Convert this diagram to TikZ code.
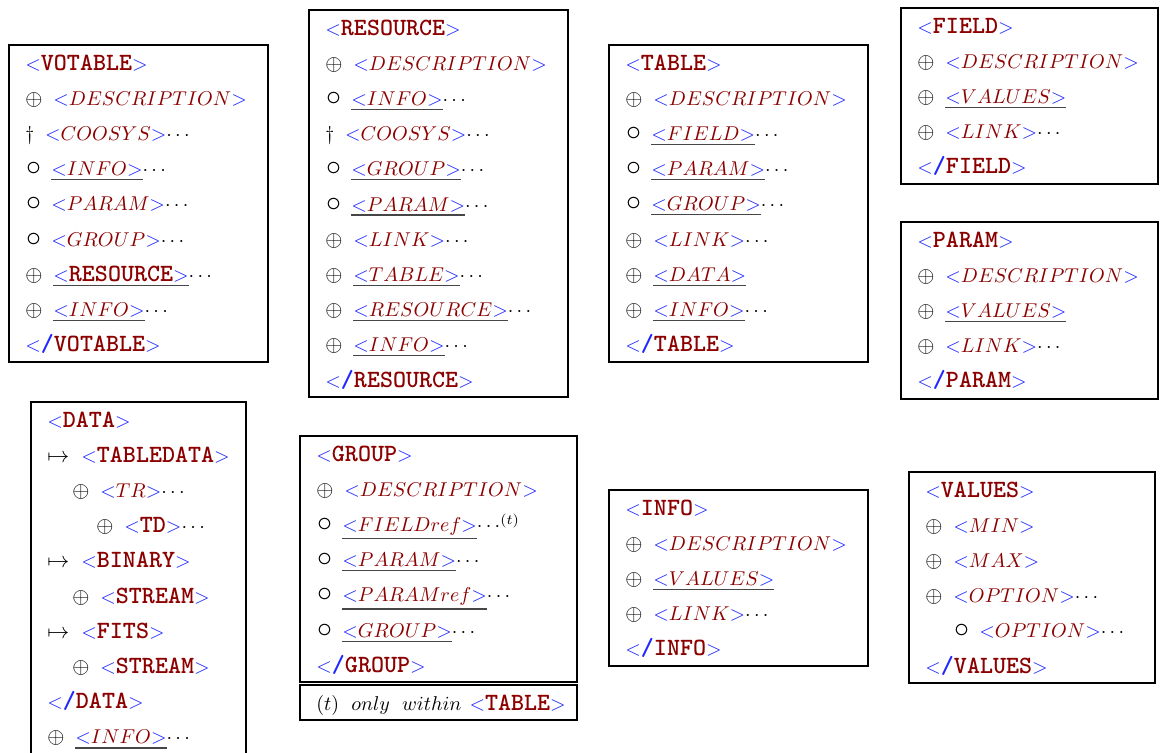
\documentclass[tikz,border=0pt]{standalone}
\usetikzlibrary{fit}
\definecolor{tagblue}{RGB}{30,40,255}
\definecolor{tagred}{RGB}{140,0,0}
\definecolor{ulgray}{RGB}{70,70,70}
\newcommand\tagfont{\fontsize{12.4}{14}\selectfont\ttfamily\bfseries}
\newcommand\lsign{\textcolor{tagblue}{$<$}}
\newcommand\gsign{\textcolor{tagblue}{$>$}}
\newcommand\tgT[1]{\lsign\textcolor{tagred}{\tagfont #1}\gsign}
\newcommand\tgE[1]{\lsign\textcolor{tagblue}{\tagfont /}\textcolor{tagred}{\tagfont #1}\gsign}
\newcommand\tgM[1]{\lsign\textcolor{tagred}{$#1$}\gsign}
\newcommand\tgU[1]{\setbox0\hbox{#1}\rlap{\textcolor{ulgray}{\rule[-\dimexpr\dp0+1.9pt\relax]{\wd0}{0.6pt}}}\box0}
\newcommand\dts{$\cdots$}
\newcommand\sOp{\makebox[14pt][l]{\scalebox{1.1}{$\oplus$}}}
\newcommand\sCi{\makebox[13pt][l]{\hspace{0.3pt}\scalebox{1.5}{$\circ$}}}
\newcommand\sDg{\makebox[9.8pt][l]{$\dagger$}}
\newcommand\sMt{\makebox[17pt][l]{\scalebox{1.1}{$\mapsto$}}}
\newcommand\R[5]{\node[rowtxt] (#1) at (#2,{#3+(#4-0.5)*35.2+7.5}) {#5};}
\begin{document}
\begin{tikzpicture}[x=0.5pt,y=-0.5pt,
  rowtxt/.style={anchor=base west, inner sep=0pt, font=\fontsize{10}{12}\selectfont},
  tbox/.style={draw=black, line width=1pt, inner sep=0pt}]
\useasboundingbox (0,0) rectangle (1160,752);
\fill[white] (0,0) rectangle (1160,752);
% VOTABLE
\node[tbox, fit={(9,45)(268,362)}] (bVOT) {};
\R{v1}{25}{45}{1}{\tgT{VOTABLE}}
\R{v2}{25}{45}{2}{\sOp\tgM{DESCRIPTION}}
\R{v3}{25}{45}{3}{\sDg\tgM{COOSYS}\dts}
\R{v4}{25}{45}{4}{\sCi\tgU{\tgM{INFO}}\dts}
\R{v5}{25}{45}{5}{\sCi\tgM{PARAM}\dts}
\R{v6}{25}{45}{6}{\sCi\tgM{GROUP}\dts}
\R{v7}{25}{45}{7}{\sOp\tgU{\tgT{RESOURCE}}\dts}
\R{v8}{25}{45}{8}{\sOp\tgU{\tgM{INFO}}\dts}
\R{v9}{25}{45}{9}{\tgE{VOTABLE}}
% RESOURCE
\node[tbox, fit={(309,10)(568,397)}] (bRES) {};
\R{r1}{325}{10}{1}{\tgT{RESOURCE}}
\R{r2}{325}{10}{2}{\sOp\tgM{DESCRIPTION}}
\R{r3}{325}{10}{3}{\sCi\tgU{\tgM{INFO}}\dts}
\R{r4}{325}{10}{4}{\sDg\tgM{COOSYS}\dts}
\R{r5}{325}{10}{5}{\sCi\tgU{\tgM{GROUP}}\dts}
\R{r6}{325}{10}{6}{\sCi\tgU{\tgM{PARAM}}\dts}
\R{r7}{325}{10}{7}{\sOp\tgM{LINK}\dts}
\R{r8}{325}{10}{8}{\sOp\tgU{\tgM{TABLE}}\dts}
\R{r9}{325}{10}{9}{\sOp\tgU{\tgM{RESOURCE}}\dts}
\R{r10}{325}{10}{10}{\sOp\tgU{\tgM{INFO}}\dts}
\R{r11}{325}{10}{11}{\tgE{RESOURCE}}
% TABLE
\node[tbox, fit={(609,45)(868,362)}] (bTAB) {};
\R{t1}{625}{45}{1}{\tgT{TABLE}}
\R{t2}{625}{45}{2}{\sOp\tgM{DESCRIPTION}}
\R{t3}{625}{45}{3}{\sCi\tgU{\tgM{FIELD}}\dts}
\R{t4}{625}{45}{4}{\sCi\tgU{\tgM{PARAM}}\dts}
\R{t5}{625}{45}{5}{\sCi\tgU{\tgM{GROUP}}\dts}
\R{t6}{625}{45}{6}{\sOp\tgM{LINK}\dts}
\R{t7}{625}{45}{7}{\sOp\tgU{\tgM{DATA}}}
\R{t8}{625}{45}{8}{\sOp\tgU{\tgM{INFO}}\dts}
\R{t9}{625}{45}{9}{\tgE{TABLE}}
% FIELD
\node[tbox, fit={(901,8)(1158,184)}] (bFLD) {};
\R{f1}{917}{8}{1}{\tgT{FIELD}}
\R{f2}{917}{8}{2}{\sOp\tgM{DESCRIPTION}}
\R{f3}{917}{8}{3}{\sOp\tgU{\tgM{VALUES}}}
\R{f4}{917}{8}{4}{\sOp\tgM{LINK}\dts}
\R{f5}{917}{8}{5}{\tgE{FIELD}}
% PARAM
\node[tbox, fit={(901,222)(1158,399)}] (bPAR) {};
\R{p1}{917}{222}{1}{\tgT{PARAM}}
\R{p2}{917}{222}{2}{\sOp\tgM{DESCRIPTION}}
\R{p3}{917}{222}{3}{\sOp\tgU{\tgM{VALUES}}}
\R{p4}{917}{222}{4}{\sOp\tgM{LINK}\dts}
\R{p5}{917}{222}{5}{\tgE{PARAM}}
% DATA
\node[tbox, fit={(31,402)(246,758)}] (bDAT) {};
\R{d1}{47}{402}{1}{\tgT{DATA}}
\R{d2}{47}{402}{2}{\sMt\tgT{TABLEDATA}}
\R{d3}{72}{402}{3}{\sOp\tgM{TR}\dts}
\R{d4}{96}{402}{4}{\sOp\tgT{TD}\dts}
\R{d5}{47}{402}{5}{\sMt\tgT{BINARY}}
\R{d6}{72}{402}{6}{\sOp\tgT{STREAM}}
\R{d7}{47}{402}{7}{\sMt\tgT{FITS}}
\R{d8}{72}{402}{8}{\sOp\tgT{STREAM}}
\R{d9}{47}{402}{9}{\tgE{DATA}}
\R{d10}{47}{402}{10}{\sOp\tgU{\tgM{INFO}}\dts}
% GROUP
\node[tbox, fit={(300,436)(577,682)}] (bGRP) {};
\R{g1}{316}{436}{1}{\tgT{GROUP}}
\R{g2}{316}{436}{2}{\sOp\tgM{DESCRIPTION}}
\R{g3}{316}{436}{3}{\sCi\tgU{\tgM{FIELDref}}\dts$^{(t)}$}
\R{g4}{316}{436}{4}{\sCi\tgU{\tgM{PARAM}}\dts}
\R{g5}{316}{436}{5}{\sCi\tgU{\tgM{PARAMref}}\dts}
\R{g6}{316}{436}{6}{\sCi\tgU{\tgM{GROUP}}\dts}
\R{g7}{316}{436}{7}{\tgE{GROUP}}
\node[tbox, fit={(300,685)(577,720)}] (bNote) {};
\R{n1}{316}{685}{1}{$(t)\;\ only\;\ within$\hspace{4pt}\tgT{TABLE}}
% INFO
\node[tbox, fit={(609,490)(868,666)}] (bINF) {};
\R{i1}{625}{490}{1}{\tgT{INFO}}
\R{i2}{625}{490}{2}{\sOp\tgM{DESCRIPTION}}
\R{i3}{625}{490}{3}{\sOp\tgU{\tgM{VALUES}}}
\R{i4}{625}{490}{4}{\sOp\tgM{LINK}\dts}
\R{i5}{625}{490}{5}{\tgE{INFO}}
% VALUES
\node[tbox, fit={(909,472)(1155,683)}] (bVAL) {};
\R{w1}{925}{472}{1}{\tgT{VALUES}}
\R{w2}{925}{472}{2}{\sOp\tgM{MIN}}
\R{w3}{925}{472}{3}{\sOp\tgM{MAX}}
\R{w4}{925}{472}{4}{\sOp\tgM{OPTION}\dts}
\R{w5}{953}{472}{5}{\sCi\tgM{OPTION}\dts}
\R{w6}{925}{472}{6}{\tgE{VALUES}}
\end{tikzpicture}
\end{document}
